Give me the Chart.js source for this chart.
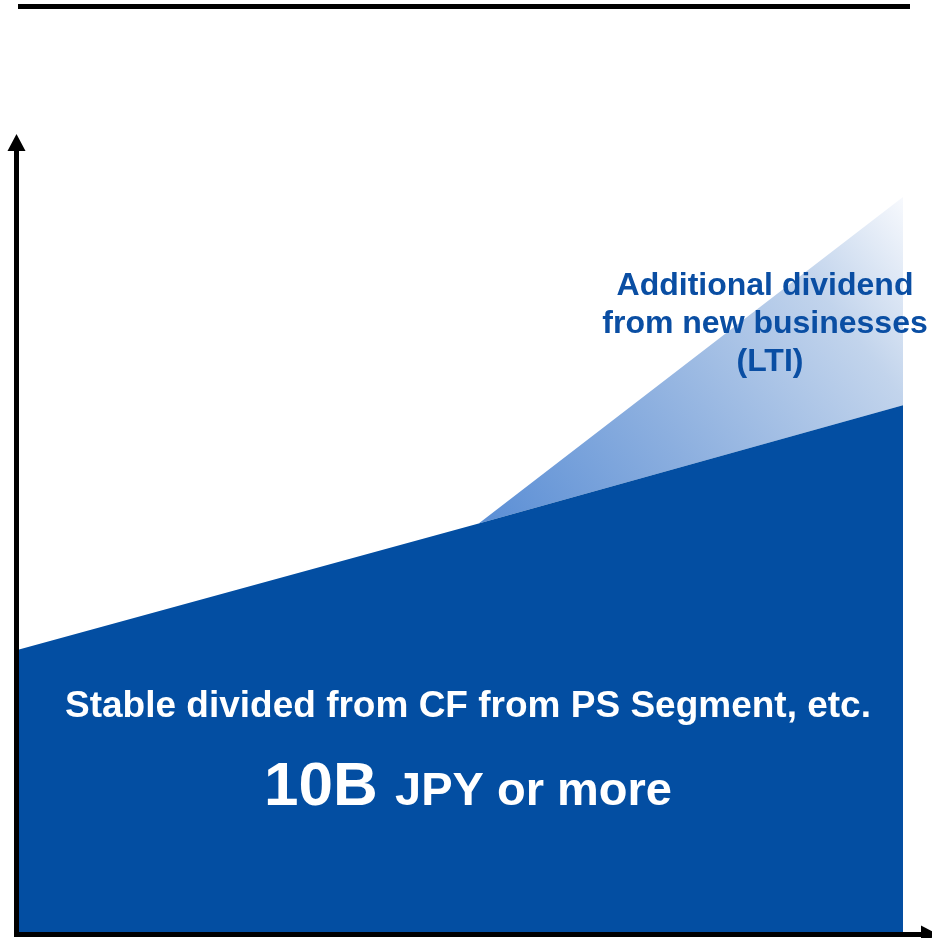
<!DOCTYPE html>
<html>
<head>
<meta charset="utf-8">
<script src="https://cdn.jsdelivr.net/npm/chart.js@4.4.0/dist/chart.umd.min.js"></script>
<style>
  html, body { margin: 0; padding: 0; background: #ffffff; overflow: hidden; }
  #wrap { width: 932px; height: 938px; }
</style>
</head>
<body>
<div id="wrap"><canvas id="c" width="932" height="938"></canvas></div>
<script>
// Horizon stages (% of the plan period) and dividend levels (B JPY)
const stages = [0, 52, 100];
const stableDividend = [10, 14.47, 18.65];
const withNewBusiness = [10, 14.47, 26.03];

const stableLabel = 'Stable divided from CF from PS Segment, etc.';
const amountMain = '10B';
const amountRest = 'JPY or more';
const additionalLabel = ['Additional dividend', 'from new businesses', '(LTI)'];

const DARK_BLUE = '#034ea2';
const TEXT_BLUE = '#0a4ea3';
const FONT = '"Liberation Sans", Arial, Helvetica, sans-serif';

// Fading gradient for the additional-dividend wedge, running from the
// branching point toward the top of the upper series.
function wedgeFill(context) {
  const chart = context.chart;
  if (!chart.chartArea) return 'rgba(91,143,213,0.8)';
  const xs = chart.scales.x, ys = chart.scales.y;
  const x0 = xs.getPixelForValue(stages[1]);
  const y0 = ys.getPixelForValue(withNewBusiness[1]);
  const x1 = xs.getPixelForValue(stages[2]);
  const y1 = ys.getPixelForValue(withNewBusiness[2]);
  const g = chart.ctx.createLinearGradient(x0, y0, x1, y1);
  g.addColorStop(0, '#5a8ed5');
  g.addColorStop(0.38, '#8cafdf');
  g.addColorStop(0.77, '#c2d4ec');
  g.addColorStop(1, '#f7f9fd');
  return g;
}

// Axes with arrowheads, the top rule, and the annotation texts
const decor = {
  id: 'decor',
  afterDraw(chart) {
    const ctx = chart.ctx;
    const a = chart.chartArea;
    ctx.save();
    ctx.fillStyle = '#000';
    ctx.strokeStyle = '#000';

    // top rule
    ctx.fillRect(18, 4, 892, 5);

    // vertical axis
    const ax = a.left - 2.5;
    ctx.lineWidth = 5;
    ctx.beginPath();
    ctx.moveTo(ax, a.bottom + 5);
    ctx.lineTo(ax, a.top + 14);
    ctx.stroke();
    ctx.beginPath();
    ctx.moveTo(ax, a.top);
    ctx.lineTo(ax - 9, a.top + 17);
    ctx.lineTo(ax + 9, a.top + 17);
    ctx.closePath();
    ctx.fill();

    // horizontal axis
    const ay = a.bottom + 2.5;
    ctx.beginPath();
    ctx.moveTo(ax - 2.5, ay);
    ctx.lineTo(924, ay);
    ctx.stroke();
    ctx.beginPath();
    ctx.moveTo(938, ay);
    ctx.lineTo(921, ay - 9);
    ctx.lineTo(921, ay + 9);
    ctx.closePath();
    ctx.fill();

    // additional dividend label
    ctx.fillStyle = TEXT_BLUE;
    ctx.textAlign = 'center';
    ctx.textBaseline = 'alphabetic';
    ctx.font = 'bold 32px ' + FONT;
    ctx.fillText(additionalLabel[0], 765, 295);
    ctx.fillText(additionalLabel[1], 765, 333);
    ctx.fillText(additionalLabel[2], 770, 371);

    // stable dividend label
    ctx.fillStyle = '#ffffff';
    ctx.font = 'bold 37px ' + FONT;
    ctx.fillText(stableLabel, 468, 717);

    // amount line
    const bigFont = 'bold 62px ' + FONT;
    const smallFont = 'bold 47px ' + FONT;
    ctx.font = bigFont;
    const w1 = ctx.measureText(amountMain + ' ').width;
    ctx.font = smallFont;
    const w2 = ctx.measureText(amountRest).width;
    const start = 468 - (w1 + w2) / 2;
    ctx.textAlign = 'left';
    ctx.font = bigFont;
    ctx.fillText(amountMain, start, 805);
    ctx.font = smallFont;
    ctx.fillText(amountRest, start + w1, 805);

    ctx.restore();
  }
};

new Chart(document.getElementById('c'), {
  type: 'line',
  data: {
    datasets: [
      {
        label: 'Stable dividend',
        data: stages.map((s, i) => ({ x: s, y: stableDividend[i] })),
        borderWidth: 0,
        borderColor: 'rgba(0,0,0,0)',
        backgroundColor: DARK_BLUE,
        fill: 'origin',
        pointRadius: 0,
        tension: 0
      },
      {
        label: 'Additional dividend (LTI)',
        data: stages.map((s, i) => ({ x: s, y: withNewBusiness[i] })),
        borderWidth: 0,
        borderColor: 'rgba(0,0,0,0)',
        backgroundColor: wedgeFill,
        fill: '-1',
        pointRadius: 0,
        tension: 0
      }
    ]
  },
  options: {
    responsive: false,
    devicePixelRatio: 1,
    animation: false,
    layout: { padding: { left: 19, right: 29, top: 134, bottom: 6 } },
    scales: {
      x: { type: 'linear', min: 0, max: 100, display: false },
      y: { type: 'linear', min: 0, max: 28.26, display: false }
    },
    plugins: {
      legend: { display: false },
      tooltip: { enabled: false },
      title: { display: false }
    }
  },
  plugins: [decor]
});
</script>
</body>
</html>
